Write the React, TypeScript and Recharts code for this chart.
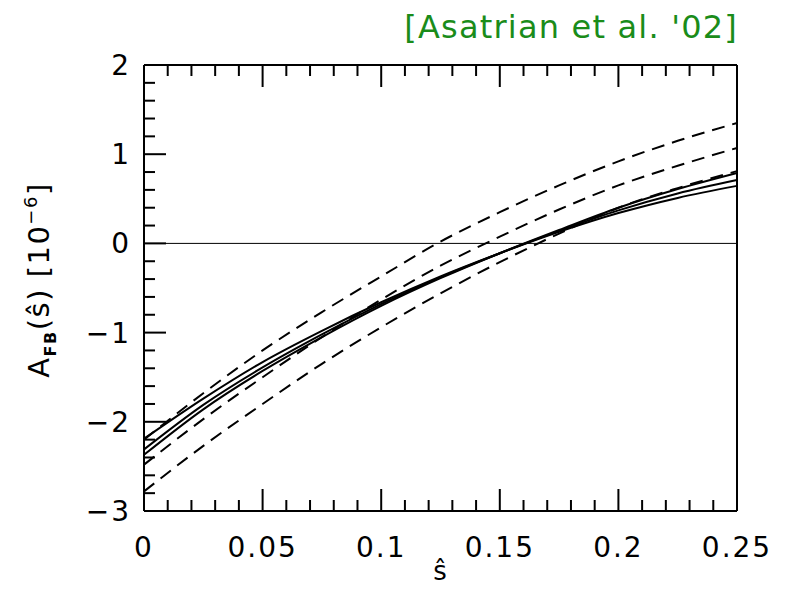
import { LineChart, Line, XAxis, YAxis, ReferenceLine } from 'recharts'

// s-hat sample points and A_FB values in units of 1e-6
const sHat = [0, 0.025, 0.05, 0.075, 0.1, 0.125, 0.15, 0.175, 0.2, 0.225, 0.25]
const solidA = [-2.19, -1.74, -1.33, -0.98, -0.66, -0.37, -0.11, 0.13, 0.34, 0.51, 0.645]
const solidB = [-2.31, -1.81, -1.39, -1.02, -0.68, -0.38, -0.11, 0.14, 0.37, 0.56, 0.71]
const solidC = [-2.37, -1.86, -1.43, -1.05, -0.7, -0.39, -0.11, 0.15, 0.4, 0.61, 0.79]
const dashedHigh = [-2.2, -1.68, -1.2, -0.77, -0.37, 0.02, 0.35, 0.65, 0.92, 1.15, 1.35]
const dashedMid = [-2.48, -1.97, -1.5, -1.05, -0.63, -0.25, 0.075, 0.38, 0.65, 0.87, 1.07]
const dashedLow = [-2.78, -2.27, -1.8, -1.35, -0.94, -0.56, -0.21, 0.11, 0.4, 0.62, 0.81]

const xTicks = [
  0, 0.01, 0.02, 0.03, 0.04, 0.05, 0.06, 0.07, 0.08, 0.09, 0.1, 0.11, 0.12, 0.13,
  0.14, 0.15, 0.16, 0.17, 0.18, 0.19, 0.2, 0.21, 0.22, 0.23, 0.24, 0.25,
]
const yTicks = [
  -3, -2.8, -2.6, -2.4, -2.2, -2, -1.8, -1.6, -1.4, -1.2, -1, -0.8, -0.6, -0.4, -0.2,
  0, 0.2, 0.4, 0.6, 0.8, 1, 1.2, 1.4, 1.6, 1.8, 2,
]
const xLabels: Record<string, string> = {
  '0': '0', '0.05': '0.05', '0.1': '0.1', '0.15': '0.15', '0.2': '0.2', '0.25': '0.25',
}
const yLabels: Record<string, string> = {
  '-3': '−3', '-2': '−2', '-1': '−1', '0': '0', '1': '1', '2': '2',
}

const data = sHat.map((s, i) => ({
  s,
  solidA: solidA[i],
  solidB: solidB[i],
  solidC: solidC[i],
  dashedHigh: dashedHigh[i],
  dashedMid: dashedMid[i],
  dashedLow: dashedLow[i],
}))

const FONT = '"DejaVu Sans", sans-serif'
const MAJOR = 22
const MINOR = 11

const isMajorX = (v: number) => Math.abs(v * 20 - Math.round(v * 20)) < 1e-6
const isMajorY = (v: number) => Math.abs(v - Math.round(v)) < 1e-6

function BottomTick(p: any) {
  const v = p.payload.value
  const major = isMajorX(v)
  return (
    <g>
      <line x1={p.x} y1={p.y} x2={p.x} y2={p.y - (major ? MAJOR : MINOR)} stroke="#000" strokeWidth={2} />
      {major && (
        <text x={p.x} y={p.y + 46} textAnchor="middle" fontFamily={FONT} fontSize={28} letterSpacing={2} fill="#000">
          {xLabels[String(Math.round(v * 100) / 100)]}
        </text>
      )}
    </g>
  )
}

function TopTick(p: any) {
  const major = isMajorX(p.payload.value)
  return <line x1={p.x} y1={p.y} x2={p.x} y2={p.y + (major ? MAJOR : MINOR)} stroke="#000" strokeWidth={2} />
}

function LeftTick(p: any) {
  const v = p.payload.value
  const major = isMajorY(v)
  return (
    <g>
      <line x1={p.x} y1={p.y} x2={p.x + (major ? MAJOR : MINOR)} y2={p.y} stroke="#000" strokeWidth={2} />
      {major && (
        <text x={p.x - 13} y={p.y + 10} textAnchor="end" fontFamily={FONT} fontSize={28} letterSpacing={2} fill="#000">
          {yLabels[String(Math.round(v))]}
        </text>
      )}
    </g>
  )
}

function RightTick(p: any) {
  const major = isMajorY(p.payload.value)
  return <line x1={p.x} y1={p.y} x2={p.x - (major ? MAJOR : MINOR)} y2={p.y} stroke="#000" strokeWidth={2} />
}

const axisLine = { stroke: '#000', strokeWidth: 2 }

export default function App() {
  return (
    <div style={{ position: 'absolute', left: 0, top: 0, width: 788, height: 589, background: '#fff' }}>
      <LineChart width={788} height={589} data={data} margin={{ top: 64, right: 50, bottom: 77, left: 143 }}>
        <XAxis
          dataKey="s"
          type="number"
          domain={[0, 0.25]}
          ticks={xTicks}
          interval={0}
          height={1}
          tickSize={0}
          tickMargin={0}
          axisLine={axisLine}
          tick={(p: any) => <BottomTick {...p} />}
        />
        <XAxis
          xAxisId="top"
          orientation="top"
          dataKey="s"
          type="number"
          domain={[0, 0.25]}
          ticks={xTicks}
          interval={0}
          height={1}
          tickSize={0}
          tickMargin={0}
          axisLine={axisLine}
          tick={(p: any) => <TopTick {...p} />}
        />
        <YAxis
          type="number"
          domain={[-3, 2]}
          ticks={yTicks}
          interval={0}
          width={1}
          tickSize={0}
          tickMargin={0}
          axisLine={axisLine}
          tick={(p: any) => <LeftTick {...p} />}
        />
        <YAxis
          yAxisId="right"
          orientation="right"
          type="number"
          domain={[-3, 2]}
          ticks={yTicks}
          interval={0}
          width={1}
          tickSize={0}
          tickMargin={0}
          axisLine={axisLine}
          tick={(p: any) => <RightTick {...p} />}
        />
        <ReferenceLine y={0} stroke="#000" strokeWidth={1} />
        <Line type="monotone" dataKey="solidA" stroke="#000" strokeWidth={2} dot={false} isAnimationActive={false} />
        <Line type="monotone" dataKey="solidB" stroke="#000" strokeWidth={2} dot={false} isAnimationActive={false} />
        <Line type="monotone" dataKey="solidC" stroke="#000" strokeWidth={2} dot={false} isAnimationActive={false} />
        <Line type="monotone" dataKey="dashedHigh" stroke="#000" strokeWidth={2} strokeDasharray="13 8" dot={false} isAnimationActive={false} />
        <Line type="monotone" dataKey="dashedMid" stroke="#000" strokeWidth={2} strokeDasharray="13 8" dot={false} isAnimationActive={false} />
        <Line type="monotone" dataKey="dashedLow" stroke="#000" strokeWidth={2} strokeDasharray="13 8" dot={false} isAnimationActive={false} />
      </LineChart>
      <svg width={788} height={589} style={{ position: 'absolute', left: 0, top: 0, pointerEvents: 'none' }}>
        <text x={738} y={38} textAnchor="end" fontFamily={FONT} fontSize={32} letterSpacing={1.2} fill="#1a8c1a">
          [Asatrian et al. '02]
        </text>
        <text x={440} y={580} textAnchor="middle" fontFamily={FONT} fontSize={26} fill="#000">
          ŝ
        </text>
        <text
          transform="translate(49,280) rotate(-90)"
          textAnchor="middle"
          fontFamily={FONT}
          fontSize={29}
          letterSpacing={1.5}
          fill="#000"
        >
          A
          <tspan fontSize={16} dy={7} fontWeight="bold">FB</tspan>
          <tspan dy={-7}>(ŝ)  [10</tspan>
          <tspan fontSize={18} dy={-12}>−6</tspan>
          <tspan dy={12}>]</tspan>
        </text>
      </svg>
    </div>
  )
}
